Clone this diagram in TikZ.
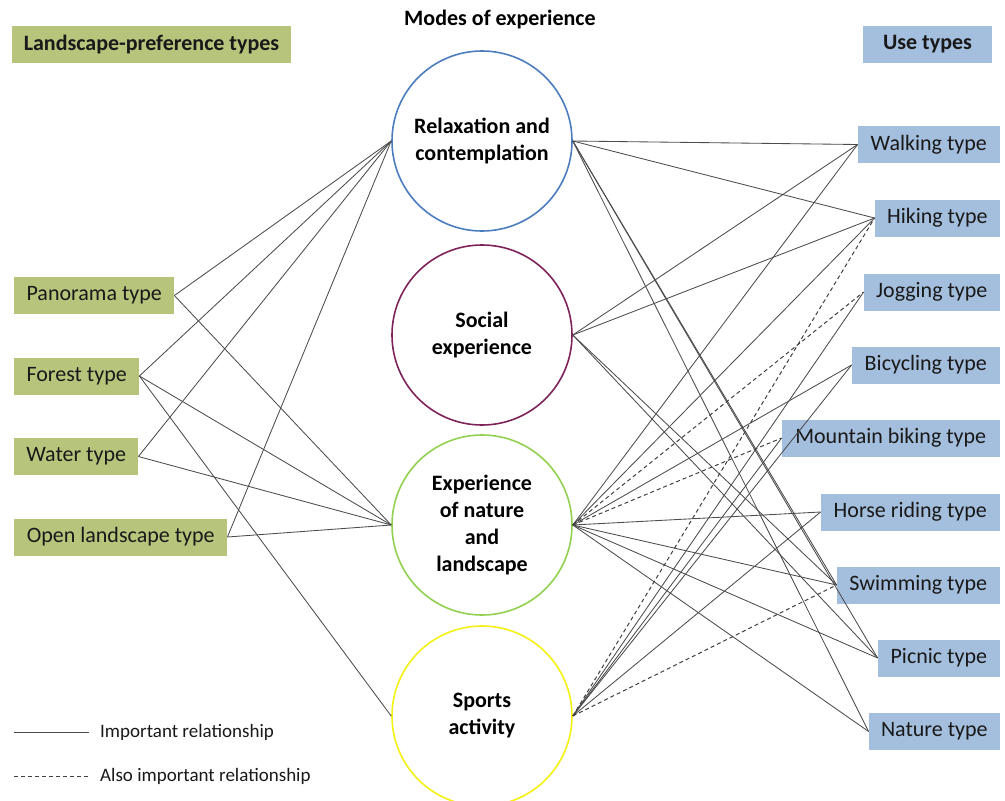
\documentclass[tikz,border=0pt]{standalone}
\usepackage{fontspec}
\setmainfont{Carlito}
\begin{document}
\begin{tikzpicture}[x=1pt,y=-1pt,
  lbox/.style={fill=lgreen, minimum height=37pt, inner sep=0pt, font=\fontsize{22}{25}\selectfont, text=black!90},
  rbox/.style={fill=lblue, minimum height=37pt, inner sep=0pt, font=\fontsize{22}{25}\selectfont, text=black!90},
  mode/.style={circle, draw, line width=1.6pt, minimum size=180pt, inner sep=0pt, align=center, font=\bfseries\fontsize{22}{27}\selectfont, text=black},
  rel/.style={draw=black!70, line width=0.85pt},
  alsorel/.style={draw=black!75, line width=1pt, dash pattern=on 4pt off 3pt}
]
\definecolor{lgreen}{RGB}{183,196,124}
\definecolor{lblue}{RGB}{164,190,221}
\definecolor{cblue}{RGB}{75,125,190}
\definecolor{cpurple}{RGB}{125,35,90}
\definecolor{cgreen}{RGB}{146,208,80}
\definecolor{cyellow}{RGB}{245,240,20}
\useasboundingbox (0,0) rectangle (1005,801);

% headers
\node[lbox, font=\bfseries\fontsize{22}{25}\selectfont, minimum width=279pt] (hl) at (151.5,44.5) {Landscape-preference types};
\node[rbox, font=\bfseries\fontsize{22}{25}\selectfont, minimum width=129pt] (hr) at (927.5,44.5) {Use types};
\node[font=\bfseries\fontsize{22}{25}\selectfont, text=black] (hm) at (500,20) {Modes of experience};

% left boxes
\node[lbox, anchor=west, minimum width=160pt] (pan) at (14,295.5) {Panorama type};
\node[lbox, anchor=west, minimum width=125pt] (for) at (14,376) {Forest type};
\node[lbox, anchor=west, minimum width=124pt] (wat) at (14,456.5) {Water type};
\node[lbox, anchor=west, minimum width=213pt] (opn) at (14,537) {Open landscape type};

% circles
\node[mode, draw=cblue] (rlx) at (482,141) {Relaxation and\\contemplation};
\node[mode, draw=cpurple] (soc) at (482,335) {Social\\experience};
\node[mode, draw=cgreen] (nat) at (482,525) {Experience\\of nature\\and\\landscape};
\node[mode, draw=cyellow] (spo) at (482,716) {Sports\\activity};

% right boxes
\node[rbox, anchor=east, minimum width=142pt] (walk) at (1000,144.5) {Walking type};
\node[rbox, anchor=east, minimum width=125pt] (hike) at (1000,218) {Hiking type};
\node[rbox, anchor=east, minimum width=136pt] (jog) at (1000,292) {Jogging type};
\node[rbox, anchor=east, minimum width=148pt] (bic) at (1000,365) {Bicycling type};
\node[rbox, anchor=east, minimum width=218pt] (mtb) at (1000,438) {Mountain biking type};
\node[rbox, anchor=east, minimum width=179pt] (hor) at (1000,512) {Horse riding type};
\node[rbox, anchor=east, minimum width=163pt] (swi) at (1000,585) {Swimming type};
\node[rbox, anchor=east, minimum width=122pt] (pic) at (1000,658) {Picnic type};
\node[rbox, anchor=east, minimum width=131pt] (ntt) at (1000,731.5) {Nature type};

% left connectors
\draw[rel] (pan.east) -- (rlx.west);
\draw[rel] (pan.east) -- (nat.west);
\draw[rel] (for.east) -- (rlx.west);
\draw[rel] (for.east) -- (nat.west);
\draw[rel] (for.east) -- (spo.west);
\draw[rel] (wat.east) -- (rlx.west);
\draw[rel] (wat.east) -- (nat.west);
\draw[rel] (opn.east) -- (rlx.west);
\draw[rel] (opn.east) -- (nat.west);

% right connectors
\foreach \t in {walk,hike,swi,pic,ntt} \draw[rel] (rlx.east) -- (\t.west);
\foreach \t in {walk,hike,swi,pic} \draw[rel] (soc.east) -- (\t.west);
\foreach \t in {walk,hike,bic,hor,swi,pic,ntt} \draw[rel] (nat.east) -- (\t.west);
\draw[alsorel] (nat.east) -- (jog.west);
\draw[alsorel] (nat.east) -- (mtb.west);
\foreach \t in {jog,bic,mtb,hor} \draw[rel] (spo.east) -- (\t.west);
\draw[alsorel] (spo.east) -- (hike.west);
\draw[alsorel] (spo.east) -- (swi.west);

% legend
\coordinate (l1a) at (14,732);
\coordinate (l1b) at (89,732);
\coordinate (l2a) at (14,776);
\coordinate (l2b) at (89,776);
\draw[rel] (l1a) -- (l1b);
\draw[alsorel] (l2a) -- (l2b);
\node[anchor=west, font=\fontsize{19}{22}\selectfont, text=black!90, inner sep=0pt] (lt1) at (100,732) {Important relationship};
\node[anchor=west, font=\fontsize{19}{22}\selectfont, text=black!90, inner sep=0pt] (lt2) at (100,776) {Also important relationship};
\end{tikzpicture}
\end{document}
